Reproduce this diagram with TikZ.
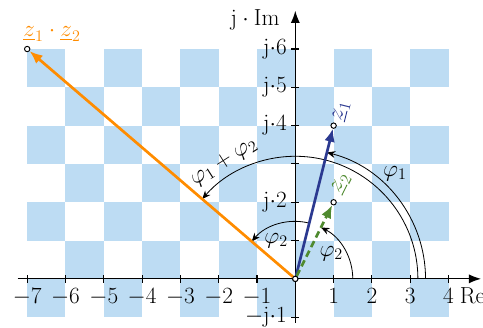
\documentclass[tikz,border=0pt]{standalone}
\usepackage{amsmath,amssymb}
\usepackage{tikz}
\usetikzlibrary{arrows.meta}
\definecolor{tile}{HTML}{BDDCF3}
\definecolor{zone}{HTML}{2B3990}
\definecolor{ztwo}{HTML}{4F8A2F}
\definecolor{zprod}{HTML}{FF8C00}

\begin{document}
\begin{tikzpicture}[
 every node/.style={font=\fontsize{17.28}{20}\selectfont},
 axis/.style={line width=.9pt,-{Latex[length=3.2mm,width=2.4mm]}},
 vec/.style={line width=2pt,-{Latex[length=3.4mm,width=2.8mm]}},
 ang/.style={line width=.6pt,-{Stealth[length=2.2mm,width=1.8mm]}},
 pt/.style={circle,draw,fill=white,line width=.7pt,inner sep=0pt,minimum size=1.4mm}]
 \useasboundingbox (-7.71,-1.26) rectangle (4.9,7.28);
 % checkerboard
 \foreach \x in {-7,...,3}
  \foreach \y in {-1,...,5}{
   \pgfmathparse{int(mod(\x+\y+100,2))}
   \ifnum\pgfmathresult=0 \fill[tile] (\x,\y) rectangle ++(1,1);\fi}
 % axes
 \draw[axis] (-7.25,0) -- (4.85,0);
 \draw[axis] (0,-1.15) -- (0,7.0);
 \foreach \x in {-7,...,-1,1,2,3,4}{
  \draw[line width=.8pt] (\x,-.1) -- (\x,.1);
  \node[anchor=base] (xt\x) at (\x,-.64) {$\x$};}
 \foreach \y in {-1,1,2,3,4,5,6}
  \draw[line width=.8pt] (-.1,\y) -- (.1,\y);
 \foreach \y in {2,4,5,6}
  \node[anchor=mid east] (yt\y) at (-.1,\y-.06) {$\mathrm{j}{\cdot}\y$};
 \node[anchor=mid east] (ytm) at (-.1,-1.06) {$-\mathrm{j}{\cdot}1$};
 \node[anchor=base west] (re) at (4.17,-.64) {$\mathrm{Re}$};
 \node (im) at (-1.05,6.75) {$\mathrm{j}\cdot\mathrm{Im}$};
 % angles
 \draw[ang] (3.4,0) arc[start angle=0,end angle=75.96,radius=3.4];
 \draw[ang] (3.2,0) arc[start angle=0,end angle=139.4,radius=3.2];
 \draw[ang] (1.5,0) arc[start angle=0,end angle=63.43,radius=1.5];
 \draw[ang] (75.96:1.5) arc[start angle=75.96,end angle=139.4,radius=1.5];
 \node (p1) at (2.6,2.75) {$\varphi_1$};
 \node[rotate=32.5] (p12) at (-1.86,3.05) {$\varphi_1+\varphi_2$};
 \node (p2a) at (-.5,1.0) {$\varphi_2$};
 \node (p2b) at (.94,.66) {$\varphi_2$};
 % pointers
 \node[pt] (o) at (0,0) {};
 \node[pt] (z1) at (1,4) {};
 \node[pt] (z2) at (1,2) {};
 \node[pt] (zp) at (-7,6) {};
 \draw[vec,zone] (o) -- (z1);
 \draw[vec,ztwo,dash pattern=on 5pt off 3pt] (o) -- (z2);
 \draw[vec,zprod] (o) -- (zp);
 \node[pt] at (o) {};
 \node[zone,rotate=76] (l1) at (1.2,4.38) {$\underline{z}_1$};
 \node[ztwo,rotate=64] (l2) at (1.2,2.48) {$\underline{z}_2$};
 \node[zprod] (lp) at (-6.35,6.4) {$\underline{z}_1\cdot\underline{z}_2$};
\end{tikzpicture}
\end{document}
